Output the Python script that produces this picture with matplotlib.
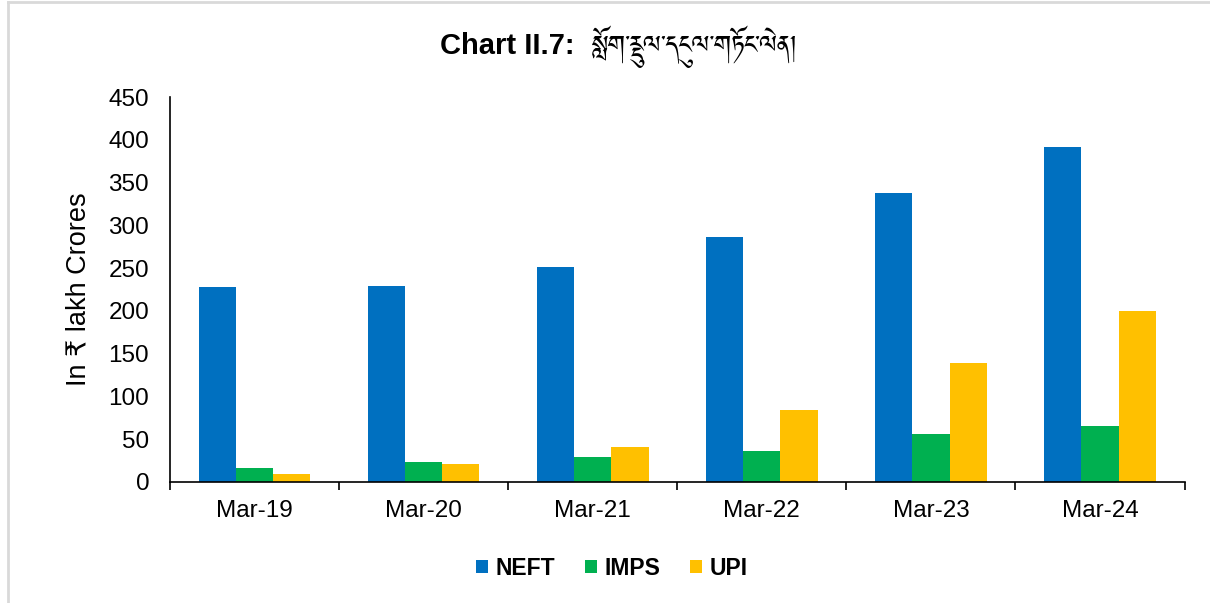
import numpy as np
import matplotlib.pyplot as plt
from matplotlib import font_manager
from matplotlib.lines import Line2D

categories = ["Mar-19", "Mar-20", "Mar-21", "Mar-22", "Mar-23", "Mar-24"]
neft = [228, 229.5, 251, 286.5, 338, 392]
imps = [16, 23.5, 29, 36, 56, 65]
upi = [9, 21.5, 41, 84, 139, 200]
series_names = ["NEFT", "IMPS", "UPI"]
colors = ["#0070C0", "#00B050", "#FFC000"]

title_main = "Chart II.7: "
title_bo = "སློག་རྡུལ་དངུལ་གཏོང་ལེན།"
ylabel = "In ₹ lakh Crores"

# look for a font with tibetan glyphs, fall back otherwise
tib = []
for f in font_manager.fontManager.ttflist:
    n = f.name.lower()
    if "tibet" in n or "jomolhari" in n or "kailasa" in n or "monlam" in n:
        tib.append(f.name)
fams = ["Liberation Sans"] + sorted(set(tib)) + ["DejaVu Sans"]
plt.rcParams["font.family"] = fams

fig = plt.figure(figsize=(12.1, 6.03), dpi=100)
ax = fig.add_axes([0.1405, 0.2007, 0.8385, 0.6383])

x = np.arange(len(categories))
w = 0.22
for i, (vals, c) in enumerate(zip([neft, imps, upi], colors)):
    ax.bar(x + (i - 1) * w, vals, w, color=c, label=series_names[i], linewidth=0)

ax.set_xlim(-0.5, len(categories) - 0.5)
ax.set_ylim(0, 450)
ax.set_yticks(np.arange(0, 451, 50))
ax.set_xticks(x)
ax.set_xticklabels(categories)
ax.set_xticks(np.arange(-0.5, len(categories), 1), minor=True)
ax.tick_params(axis="x", which="major", length=0, pad=13, labelsize=17.5)
ax.tick_params(axis="x", which="minor", length=6, width=1.2, direction="out")
ax.tick_params(axis="y", length=0, pad=15, labelsize=17.5)
for s in ["top", "right"]:
    ax.spines[s].set_visible(False)
ax.spines["left"].set_linewidth(1.2)
ax.spines["bottom"].set_linewidth(1.2)
ax.set_ylabel(ylabel, fontsize=19.5, labelpad=12)

fig.text(0.364, 0.924, title_main, fontsize=21, fontweight="bold", ha="left", va="center")
fig.text(0.489, 0.922, title_bo, fontsize=22, ha="left", va="center")

fig.legend(loc="center", bbox_to_anchor=(0.506, 0.058), ncol=3, frameon=False,
           prop={"size": 16.5, "weight": "bold"}, handlelength=0.5, handleheight=0.55,
           handletextpad=0.35, columnspacing=1.3)

# light grey frame lines at left and top
fig.add_artist(Line2D([0.0066, 0.0066], [0, 0.997], color="#d9d9d9", lw=2, transform=fig.transFigure))
fig.add_artist(Line2D([0.0066, 1], [0.997, 0.997], color="#d9d9d9", lw=2, transform=fig.transFigure))

fig.savefig("out.png", dpi=100)
